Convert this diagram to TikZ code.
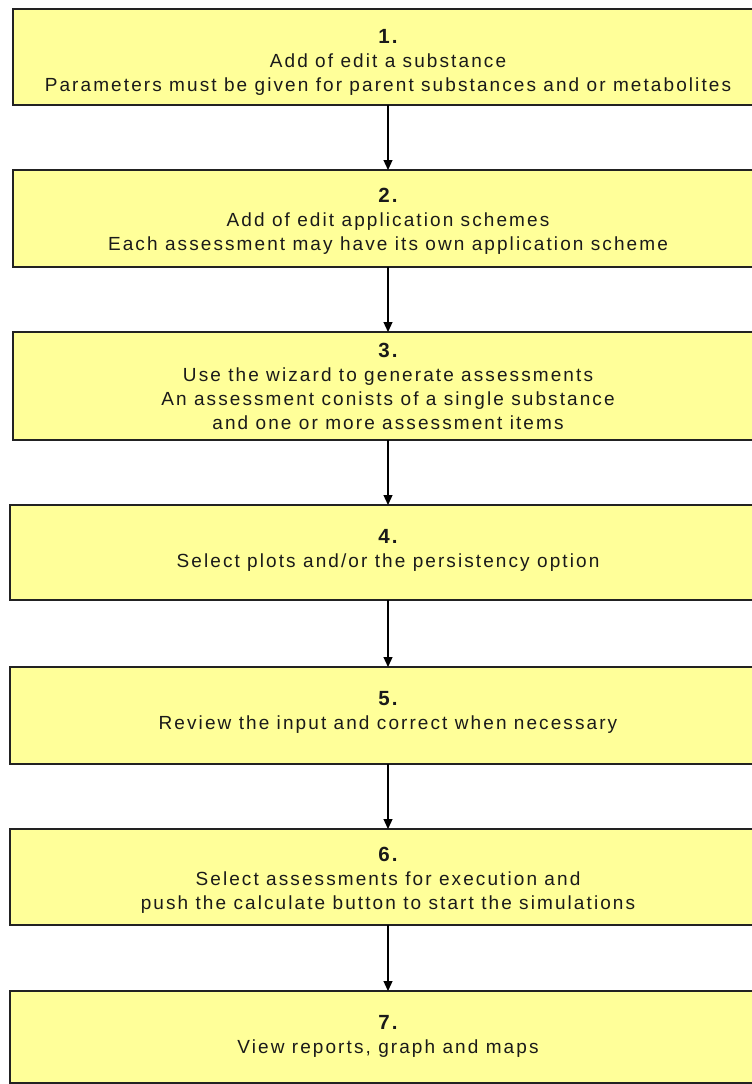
\documentclass[tikz,border=0pt]{standalone}
\usepackage{fontspec}
\setmainfont{Liberation Sans}[LetterSpace=11]
\usetikzlibrary{arrows.meta}
\definecolor{boxfill}{HTML}{FFFF99}
\definecolor{boxline}{HTML}{222222}
\definecolor{txt}{HTML}{1A1A1A}
\tikzset{
  stepbox/.style={draw=boxline, line width=1.5pt, fill=boxfill},
  steptext/.style={align=center, text=txt, font=\fontsize{19}{24}\selectfont, inner sep=0pt},
  flow/.style={draw=black, line width=1.2pt, -{Triangle[width=9pt,length=10pt]}}
}
\newcommand{\stepnum}[1]{{\fontsize{20.5}{24}\selectfont\bfseries #1}}
\begin{document}
\begin{tikzpicture}[x=1pt,y=-1pt]
\useasboundingbox (0,0) rectangle (752,1084);
\clip (0,0) rectangle (752,1084);
% boxes
\draw[stepbox] (13,9) rectangle (765,105);
\draw[stepbox] (13,170) rectangle (765,267);
\draw[stepbox] (13,332) rectangle (765,440);
\draw[stepbox] (10,505) rectangle (765,600);
\draw[stepbox] (10,667) rectangle (765,764);
\draw[stepbox] (10,829) rectangle (765,925);
\draw[stepbox] (10,991) rectangle (765,1083);
% anchors
\coordinate (b1) at (388,105); \coordinate (t2) at (388,170);
\coordinate (b2) at (388,267); \coordinate (t3) at (388,332);
\coordinate (b3) at (388,440); \coordinate (t4) at (388,505);
\coordinate (b4) at (388,600); \coordinate (t5) at (388,667);
\coordinate (b5) at (388,764); \coordinate (t6) at (388,829);
\coordinate (b6) at (388,925); \coordinate (t7) at (388,991);
% texts
\node[steptext] (n1) at (388,62) {\stepnum{1.}\\Add of edit a substance\\Parameters must be given for parent substances and or metabolites};
\node[steptext] (n2) at (388,221) {\stepnum{2.}\\Add of edit application schemes\\Each assessment may have its own application scheme};
\node[steptext] (n3) at (388,386) {\stepnum{3.}\\Use the wizard to generate assessments\\An assessment conists of a single substance\\and one or more assessment items};
\node[steptext] (n4) at (388,550) {\stepnum{4.}\\Select plots and/or the persistency option};
\node[steptext] (n5) at (388,712) {\stepnum{5.}\\Review the input and correct when necessary};
\node[steptext] (n6) at (388,880) {\stepnum{6.}\\Select assessments for execution and\\push the calculate button to start the simulations};
\node[steptext] (n7) at (388,1036) {\stepnum{7.}\\View reports, graph and maps};
% arrows
\draw[flow] (b1) -- (t2);
\draw[flow] (b2) -- (t3);
\draw[flow] (b3) -- (t4);
\draw[flow] (b4) -- (t5);
\draw[flow] (b5) -- (t6);
\draw[flow] (b6) -- (t7);
\end{tikzpicture}
\end{document}
